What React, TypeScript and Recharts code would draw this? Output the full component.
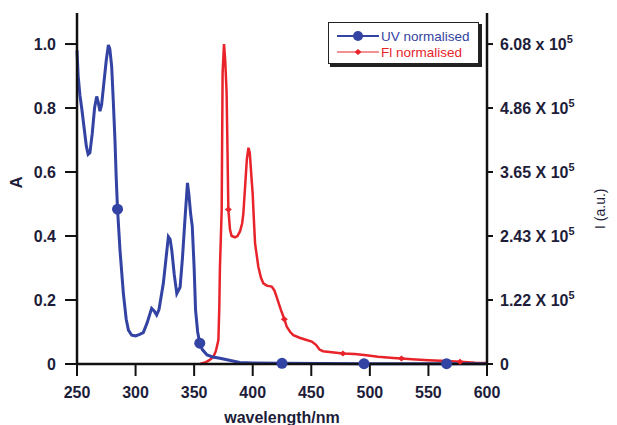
import { LineChart, Line, XAxis, YAxis } from "recharts";

// UV absorbance (normalised)
const uvWavelength = [
  250, 251, 252.5, 254, 256, 258, 259.5, 261, 263, 265, 266.8, 268, 269.6, 271, 273, 275, 276.8, 278,
  279.6, 281, 282.4, 283.5, 284.6, 286.7, 289.6, 292, 293.9, 296.7, 300, 303, 306.6, 310, 313.7, 316,
  318, 320, 323.7, 326, 328, 329.5, 330.9, 333, 335.2, 338, 340, 342.3, 344.3, 345.5, 347, 348.4, 350,
  351.2, 353, 354.8, 357, 361, 366, 372, 380, 389, 400, 425, 460, 495, 530, 565.5, 600,
];
const uvAbs = [
  0.98, 0.9, 0.84, 0.8, 0.74, 0.68, 0.655, 0.66, 0.72, 0.8, 0.836, 0.82, 0.79, 0.81, 0.88, 0.95, 0.997,
  0.985, 0.93, 0.82, 0.7, 0.58, 0.484, 0.356, 0.22, 0.14, 0.106, 0.09, 0.088, 0.092, 0.098, 0.13, 0.174,
  0.165, 0.153, 0.17, 0.252, 0.33, 0.398, 0.39, 0.356, 0.28, 0.22, 0.24, 0.33, 0.46, 0.566, 0.53, 0.47,
  0.43, 0.3, 0.169, 0.1, 0.065, 0.045, 0.028, 0.022, 0.018, 0.012, 0.005, 0.003, 0.002, 0.0015, 0.001,
  0.001, 0.001, 0.001,
];
const uvMarkers = [284.6, 354.8, 425, 495, 565.5];

// Fluorescence intensity (normalised)
const flWavelength = [
  355, 360, 363, 366.4, 368.5, 370.7, 371.5, 372, 373.5, 374.3, 375.5, 376.5, 377.7, 378.5, 379.2, 380.6,
  382, 384.9, 387, 389.2, 391, 392, 393.5, 395, 396.4, 397.5, 399, 400, 401, 402, 404.8, 407, 409.1, 412,
  416.2, 418.5, 420.4, 424, 427, 429, 432, 434.7, 440, 446, 450.4, 454, 457, 460, 467.5, 477, 487, 497,
  507, 520, 527, 536, 550, 565, 577, 590, 600,
];
const flInt = [
  0, 0.006, 0.012, 0.023, 0.04, 0.075, 0.18, 0.3, 0.48, 0.91, 1.0, 0.95, 0.85, 0.66, 0.483, 0.42, 0.4,
  0.396, 0.4, 0.415, 0.44, 0.47, 0.554, 0.64, 0.676, 0.66, 0.58, 0.53, 0.45, 0.377, 0.304, 0.27, 0.252,
  0.245, 0.242, 0.23, 0.21, 0.17, 0.14, 0.117, 0.1, 0.09, 0.082, 0.075, 0.07, 0.06, 0.045, 0.04, 0.037,
  0.033, 0.031, 0.027, 0.023, 0.019, 0.017, 0.015, 0.012, 0.009, 0.007, 0.004, 0.003,
];
const flMarkers = [379.2, 427, 477, 527, 577];

const xTicks = [250, 300, 350, 400, 450, 500, 550, 600];
const leftTicks = [0, 0.2, 0.4, 0.6, 0.8, 1.0];
const leftLabels = ["0", "0.2", "0.4", "0.6", "0.8", "1.0"];
const rightTicks = [0, 0.2, 0.4, 0.6, 0.8, 1.0];
const rightLabels = ["0", "1.22 X 10", "2.43 X 10", "3.65 X 10", "4.86 X 10", "6.08 x 10"];

const BLUE = "#3343a3";
const RED = "#e8232a";
const INK = "#1d1d3a";

const uvData = uvWavelength.map((x, i) => ({ x, uv: uvAbs[i], mark: uvMarkers.includes(x) }));
const flData = flWavelength.map((x, i) => ({ x, fl: flInt[i], mark: flMarkers.includes(x) }));

const UvDot = (props: any) => {
  const { cx, cy, payload, index } = props;
  if (!payload.mark) return <g key={index} />;
  return <circle key={index} cx={cx} cy={cy} r={5.5} fill={BLUE} />;
};

const FlDot = (props: any) => {
  const { cx, cy, payload, index } = props;
  if (!payload.mark) return <g key={index} />;
  return (
    <path key={index} d={`M${cx - 3.5},${cy} L${cx},${cy - 3} L${cx + 3.5},${cy} L${cx},${cy + 3} Z`} fill={RED} />
  );
};

const RightTick = (props: any) => {
  const { x, y, payload } = props;
  const i = rightTicks.indexOf(payload.value);
  const label = rightLabels[i];
  return (
    <text x={x} y={y} dy={6} fill={INK} fontSize={16} fontWeight="bold" textAnchor="start">
      <tspan>{label}</tspan>
      {i > 0 && (
        <tspan dy={-7} fontSize={11}>
          5
        </tspan>
      )}
    </text>
  );
};

const LegendBox = () => (
  <div style={{ position: "absolute", left: 328, top: 22, width: 154, height: 45 }}>
    <div style={{ position: "absolute", left: 2, top: 2, width: 152, height: 43, background: "#222" }} />
    <svg
      width={152}
      height={43}
      style={{ position: "absolute", left: 0, top: 0, fontFamily: "Liberation Sans, Arial, sans-serif" }}
    >
      <rect x={0.5} y={0.5} width={150} height={41} fill="#fff" stroke="#222" strokeWidth={1} />
      <line x1={9} y1={14} x2={51} y2={14} stroke={BLUE} strokeWidth={2} />
      <circle cx={30} cy={14} r={5} fill={BLUE} />
      <line x1={9} y1={30} x2={51} y2={30} stroke={RED} strokeWidth={1} />
      <path d="M26.5,30 L30,27 L33.5,30 L30,33 Z" fill={RED} />
      <text x={53} y={19} fill={BLUE} fontSize={13.5}>
        UV normalised
      </text>
      <text x={53} y={35} fill={RED} fontSize={13.5}>
        Fl normalised
      </text>
    </svg>
  </div>
);

export default function App() {
  return (
    <div style={{ position: "absolute", left: 0, top: 0, width: 617, height: 425, background: "#fff" }}>
      <LineChart
        width={617}
        height={425}
        margin={{ top: 13, right: 0, bottom: 0, left: 0 }}
        style={{ fontFamily: "Liberation Sans, Arial, sans-serif" }}
      >
        <XAxis
          xAxisId="top"
          orientation="top"
          type="number"
          dataKey="x"
          domain={[250, 600]}
          height={0}
          tick={false}
          tickLine={false}
          axisLine={{ stroke: "#111", strokeWidth: 2 }}
        />
        <XAxis
          xAxisId="main"
          type="number"
          dataKey="x"
          domain={[250, 600]}
          ticks={xTicks}
          height={61}
          tickSize={12}
          tickMargin={11}
          axisLine={{ stroke: "#111", strokeWidth: 2.5 }}
          tickLine={{ stroke: "#111", strokeWidth: 2 }}
          tick={{ fill: INK, fontSize: 16, fontWeight: "bold" }}
          label={{
            value: "wavelength/nm",
            position: "insideBottom",
            offset: 2,
            fill: INK,
            fontSize: 16,
            fontWeight: "bold",
          }}
        />
        <YAxis
          yAxisId="left"
          domain={[0, 1.097]}
          ticks={leftTicks}
          width={77}
          tickSize={12}
          tickMargin={9}
          tickFormatter={(v: number) => leftLabels[leftTicks.indexOf(v)]}
          axisLine={{ stroke: "#111", strokeWidth: 2.5 }}
          tickLine={{ stroke: "#111", strokeWidth: 2 }}
          tick={{ fill: INK, fontSize: 16, fontWeight: "bold" }}
          label={{
            value: "A",
            angle: -90,
            position: "insideLeft",
            offset: 16,
            fill: INK,
            fontSize: 17,
            fontWeight: "bold",
          }}
        />
        <YAxis
          yAxisId="right"
          orientation="right"
          domain={[0, 1.097]}
          ticks={rightTicks}
          width={130}
          tickSize={6}
          tickMargin={7}
          axisLine={{ stroke: "#111", strokeWidth: 2.5 }}
          tickLine={{ stroke: "#111", strokeWidth: 2 }}
          tick={<RightTick />}
          label={{
            value: "I (a.u.)",
            angle: -90,
            position: "insideRight",
            offset: 17,
            fill: INK,
            fontSize: 14,
          }}
        />
        <Line
          data={flData}
          xAxisId="main"
          yAxisId="right"
          dataKey="fl"
          type="linear"
          stroke={RED}
          strokeWidth={2.5}
          dot={<FlDot />}
          activeDot={false}
          isAnimationActive={false}
        />
        <Line
          data={uvData}
          xAxisId="main"
          yAxisId="left"
          dataKey="uv"
          type="linear"
          stroke={BLUE}
          strokeWidth={3}
          dot={<UvDot />}
          activeDot={false}
          isAnimationActive={false}
        />
      </LineChart>
      <LegendBox />
    </div>
  );
}
